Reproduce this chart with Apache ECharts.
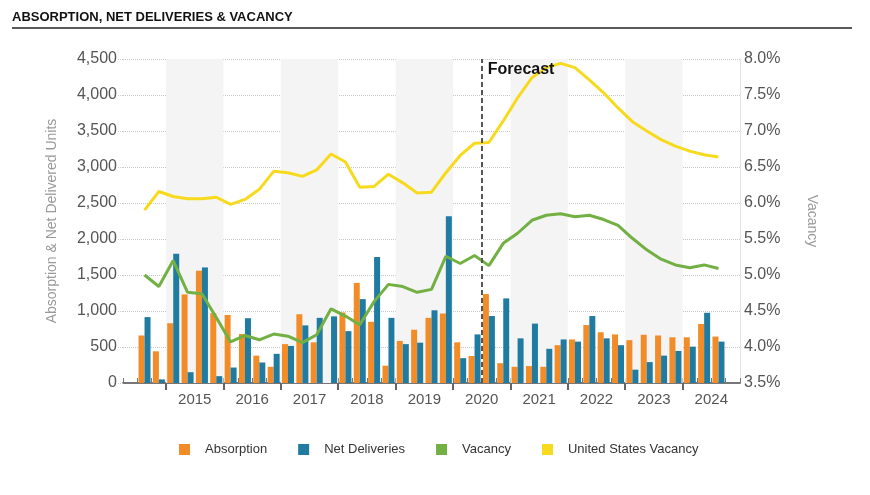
<!DOCTYPE html>
<html>
<head>
<meta charset="utf-8">
<script src="https://cdn.jsdelivr.net/npm/echarts@6/dist/echarts.min.js"></script>
<style>html,body{margin:0;padding:0;background:#fff}#c{width:870px;height:495px}</style>
</head>
<body>
<div id="c"></div>
<script>
// ---- data ----
// quarterly categories from 2014 Q2 to 2024 Q4 (first and last slot are empty)
const categories = ['2014 Q2','2014 Q3','2014 Q4',
  '2015 Q1','2015 Q2','2015 Q3','2015 Q4','2016 Q1','2016 Q2','2016 Q3','2016 Q4',
  '2017 Q1','2017 Q2','2017 Q3','2017 Q4','2018 Q1','2018 Q2','2018 Q3','2018 Q4',
  '2019 Q1','2019 Q2','2019 Q3','2019 Q4','2020 Q1','2020 Q2','2020 Q3','2020 Q4',
  '2021 Q1','2021 Q2','2021 Q3','2021 Q4','2022 Q1','2022 Q2','2022 Q3','2022 Q4',
  '2023 Q1','2023 Q2','2023 Q3','2023 Q4','2024 Q1','2024 Q2','2024 Q3','2024 Q4'];
const yearLabels = ['2015','2016','2017','2018','2019','2020','2021','2022','2023','2024'];
const shadedYears = ['2015','2017','2019','2021','2023'];
const forecastStart = '2020 Q3';

const absorption = ['-',660,440,
  830,1230,1560,970, 945,680,380,225, 540,955,565,0, 980,1390,850,240,
  585,740,905,965, 565,375,1235,275, 225,235,225,525, 605,805,705,675,
  595,670,660,635, 635,820,645,'-'];
const netDeliveries = ['-',915,50,
  1795,150,1605,95, 215,900,285,405, 515,800,905,925, 720,1165,1750,905,
  540,560,1010,2315, 345,675,930,1175, 620,825,475,605, 575,930,620,525,
  185,290,380,445, 505,975,575,'-'];
const vacancy = ['-',5.00,4.84,
  5.20,4.76,4.74,4.41, 4.07,4.16,4.10,4.18, 4.15,4.06,4.17,4.53, 4.43,4.31,4.63,4.87,
  4.84,4.76,4.80,5.26, 5.16,5.27,5.13,5.44, 5.58,5.76,5.83,5.85, 5.81,5.83,5.77,5.69,
  5.51,5.35,5.22,5.14, 5.10,5.14,5.09,'-'];
const usVacancy = ['-',5.90,6.16,
  6.09,6.06,6.06,6.08, 5.98,6.05,6.19,6.44, 6.42,6.37,6.46,6.68, 6.57,6.22,6.23,6.40,
  6.28,6.14,6.15,6.42, 6.66,6.83,6.84,7.14, 7.46,7.74,7.88,7.94, 7.88,7.71,7.53,7.32,
  7.13,7.00,6.88,6.79, 6.72,6.67,6.64,'-'];

// ---- derived axis positions (category boundaries on a 0..N value scale) ----
const yearStarts = yearLabels.map(y => categories.indexOf(y + ' Q1'));
const yearCenters = yearStarts.map(s => s + 2);
const bands = shadedYears.map(y => {
  const s = categories.indexOf(y + ' Q1');
  return [{xAxis: s}, {xAxis: s + 4}];
});
const forecastPos = categories.indexOf(forecastStart);

const FONT = "Arial, 'Liberation Sans', sans-serif";
const chart = echarts.init(document.getElementById('c'));
chart.setOption({
  animation: false,
  textStyle: {fontFamily: FONT},
  title: {
    text: 'ABSORPTION, NET DELIVERIES & VACANCY',
    left: 12, top: 11, padding: 0,
    textStyle: {fontSize: 13, fontWeight: 'bold', color: '#111', fontFamily: FONT}
  },
  graphic: [{type: 'line', shape: {x1: 12, y1: 28, x2: 852, y2: 28},
    style: {stroke: '#222', lineWidth: 1.5}, silent: true}],
  legend: {
    data: ['Absorption', 'Net Deliveries', 'Vacancy', 'United States Vacancy'],
    left: 179, top: 443, padding: 0, itemWidth: 11, itemHeight: 11, itemGap: 31, icon: 'rect',
    textStyle: {fontSize: 13, color: '#333', padding: [0, 0, 0, 10]}
  },
  grid: {left: 123, right: 130, top: 59, bottom: 112},
  xAxis: [
    {
      type: 'category', data: categories, position: 'bottom', boundaryGap: true,
      axisLine: {lineStyle: {color: '#777', width: 2}},
      axisTick: {show: true, inside: true, length: 5, interval: 0, lineStyle: {color: '#777'}},
      axisLabel: {show: false}, splitLine: {show: false}
    },
    {
      type: 'value', min: 0, max: categories.length, position: 'bottom',
      axisLine: {show: false}, splitLine: {show: false},
      axisTick: {show: true, customValues: yearStarts, length: 7, lineStyle: {color: '#666', width: 2}},
      axisLabel: {
        customValues: yearCenters, margin: 9, fontSize: 15, color: '#555',
        formatter: v => { const i = yearCenters.indexOf(v); return i >= 0 ? yearLabels[i] : ''; }
      }
    }
  ],
  yAxis: [
    {
      type: 'value', min: 0, max: 4500, interval: 500, position: 'left',
      name: 'Absorption & Net Delivered Units', nameLocation: 'middle', nameRotate: 90, nameGap: 64,
      nameTextStyle: {fontSize: 14, color: '#999'},
      axisLine: {show: false},
      axisTick: {show: true, length: 5, lineStyle: {color: '#ccc', type: 'dotted'}},
      axisLabel: {fontSize: 16, color: '#555', margin: 6,
        formatter: v => v.toLocaleString('en-US')},
      splitLine: {lineStyle: {color: '#c8c8c8', type: 'dotted'}}
    },
    {
      type: 'value', min: 3.5, max: 8, interval: 0.5, position: 'right',
      name: 'Vacancy', nameLocation: 'middle', nameRotate: -90, nameGap: 65,
      nameTextStyle: {fontSize: 14, color: '#999'},
      axisLine: {show: true, lineStyle: {color: '#e3e3e3'}},
      axisTick: {show: false},
      axisLabel: {fontSize: 16, color: '#555', margin: 4, formatter: v => v.toFixed(1) + '%'},
      splitLine: {show: false}
    }
  ],
  series: [
    {
      name: 'bands', type: 'line', xAxisIndex: 1, yAxisIndex: 0, data: [], z: -1, silent: true,
      markArea: {silent: true, itemStyle: {color: '#f4f4f4'}, data: bands}
    },
    {
      name: 'Absorption', type: 'bar', xAxisIndex: 0, yAxisIndex: 0, data: absorption,
      barWidth: 6, barGap: '0%', itemStyle: {color: '#f28c28'}
    },
    {
      name: 'Net Deliveries', type: 'bar', xAxisIndex: 0, yAxisIndex: 0, data: netDeliveries,
      barWidth: 6, barGap: '0%', itemStyle: {color: '#1f7ba0'}
    },
    {
      name: 'Vacancy', type: 'line', xAxisIndex: 0, yAxisIndex: 1, data: vacancy,
      showSymbol: false, symbol: 'none', lineStyle: {width: 3, color: '#72b043'},
      itemStyle: {color: '#72b043'}
    },
    {
      name: 'United States Vacancy', type: 'line', xAxisIndex: 0, yAxisIndex: 1, data: usVacancy,
      showSymbol: false, symbol: 'none', lineStyle: {width: 3, color: '#f7da1e'},
      itemStyle: {color: '#f7da1e'}
    },
    {
      name: 'forecast', type: 'line', xAxisIndex: 1, yAxisIndex: 0, data: [], z: 5, silent: true,
      markLine: {
        silent: true, symbol: ['none', 'none'],
        lineStyle: {color: '#555', type: [5, 3], width: 2},
        label: {show: true, formatter: 'Forecast', position: 'end', align: 'left', verticalAlign: 'top',
          distance: -3, padding: [0, 0, 0, 6], color: '#111', fontWeight: 'bold', fontSize: 16},
        data: [{xAxis: forecastPos}]
      }
    }
  ]
});
</script>
</body>
</html>
